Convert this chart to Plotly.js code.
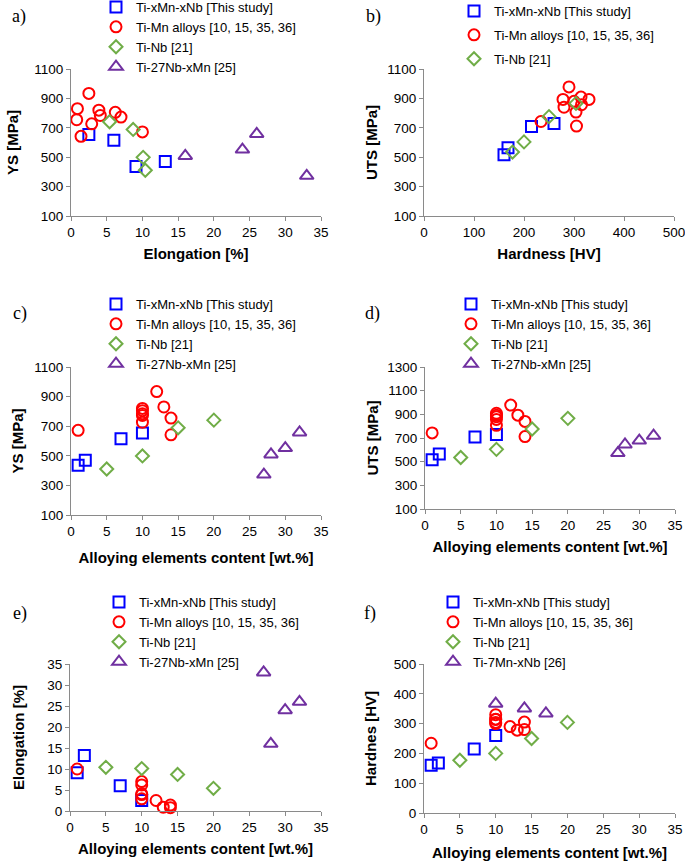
<!DOCTYPE html>
<html>
<head>
<meta charset="utf-8">
<script src="https://cdn.plot.ly/plotly-3.0.1.min.js"></script>
<style>
  body { margin: 0; background: #fff; }
  #chart { width: 685px; height: 861px; }
</style>
</head>
<body>
<div id="chart"></div>
<script>
'use strict'
/* Mechanical properties of Ti-xMn-xNb alloys compared with literature data */

/* Ti-xMn-xNb [This study] */
var studyContent = [1, 2, 7, 10];
var studyYS = [436, 470, 616, 654];
var studyUTS = [516, 565, 709, 730];
var studyElong = [9.1, 13.2, 6.0, 2.5];
var studyHV = [160, 168, 215, 260];

/* Ti-Mn alloys [10, 15, 35, 36] */
var mnContent = [1, 10, 10, 10, 10, 10, 12, 13, 14, 14];
var mnYS = [672, 727, 820, 784, 805, 773, 934, 830, 755, 642];
var mnElong = [10.0, 2.9, 3.9, 4.1, 6.2, 7.0, 2.5, 0.9, 0.8, 1.4];
var mnUTS = [743, 880, 807, 909, 857, 893, 978, 893, 840, 712];
var mnHV = [234, 300, 304, 314, 315, 330, 290, 278, 280, 305];

/* Ti-Nb [21] */
var nbContent = [5, 10, 15, 20];
var nbYS = [411, 499, 689, 741];
var nbElong = [10.4, 10.1, 8.7, 5.4];
var nbUTS = [535, 604, 776, 866];
var nbHV = [177, 200, 250, 304];

/* Ti-27Nb-xMn [25] */
var nb27Content = [27, 28, 30, 32];
var nb27YS = [373, 509, 552, 658];
var nb27Elong = [33.0, 16.0, 24.0, 26.0];
var nb27UTS = [573, 645, 678, 720];

/* Ti-7Mn-xNb [26] */
var mn7Content = [10, 14, 17];
var mn7HV = [367, 351, 334];

var names = {
    study: 'Ti-xMn-xNb [This study]',
    mn: 'Ti-Mn alloys [10, 15, 35, 36]',
    nb: 'Ti-Nb [21]',
    nb27: 'Ti-27Nb-xMn [25]',
    mn7: 'Ti-7Mn-xNb [26]'
};

var blue = '#0000FF', red = '#FF0000', green = '#70AD47', purple = '#7030A0';
var FONT = 'Arial, "Liberation Sans", sans-serif';

function pts(x, y, name, symbol, color, size, n) {
    var suffix = n == 1 ? '' : String(n);
    return {
        type: 'scatter',
        mode: 'markers',
        name: name,
        x: x,
        y: y,
        xaxis: 'x' + suffix,
        yaxis: 'y' + suffix,
        legend: 'legend' + suffix,
        legendgroup: name + n,
        cliponaxis: false,
        // open symbols take their stroke colour from marker.color
        marker: {symbol: symbol, size: size, color: color, line: {width: 2}}
    };
}
function square(x, y, n) { return pts(x, y, names.study, 'square-open', blue, 11, n); }
function circle(x, y, n) { return pts(x, y, names.mn, 'circle-open', red, 11, n); }
function diamond(x, y, n) { return pts(x, y, names.nb, 'diamond-open', green, 10, n); }
function triangle(x, y, name, n) { return pts(x, y, name, 'triangle-up-open', purple, 12, n); }

var data = [
    /* a) YS vs elongation */
    square(studyElong, studyYS, 1), circle(mnElong, mnYS, 1), diamond(nbElong, nbYS, 1), triangle(nb27Elong, nb27YS, names.nb27, 1),
    /* b) UTS vs hardness */
    square(studyHV, studyUTS, 2), circle(mnHV, mnUTS, 2), diamond(nbHV, nbUTS, 2),
    /* c) YS vs content */
    square(studyContent, studyYS, 3), circle(mnContent, mnYS, 3), diamond(nbContent, nbYS, 3), triangle(nb27Content, nb27YS, names.nb27, 3),
    /* d) UTS vs content */
    square(studyContent, studyUTS, 4), circle(mnContent, mnUTS, 4), diamond(nbContent, nbUTS, 4), triangle(nb27Content, nb27UTS, names.nb27, 4),
    /* e) elongation vs content */
    square(studyContent, studyElong, 5), circle(mnContent, mnElong, 5), diamond(nbContent, nbElong, 5), triangle(nb27Content, nb27Elong, names.nb27, 5),
    /* f) hardness vs content */
    square(studyContent, studyHV, 6), circle(mnContent, mnHV, 6), diamond(nbContent, nbHV, 6), triangle(mn7Content, mn7HV, names.mn7, 6)
];

var W = 685, H = 861;
function px(v) { return v / W; }
function py(v) { return 1 - v / H; }

function xax(left, right, range, dtick, title, anchor, standoff) {
    return {
        domain: [px(left), px(right)], range: range, tick0: 0, dtick: dtick, anchor: anchor,
        showgrid: false, zeroline: false, showline: true, linecolor: '#8a8a8a', linewidth: 1,
        ticks: 'outside', ticklen: 4, tickcolor: '#8a8a8a', ticklabeloverflow: 'allow',
        tickfont: {family: FONT, size: 13.5, color: '#000'},
        title: {text: title, standoff: standoff, font: {family: FONT, size: 15, color: '#000', weight: 'bold'}}
    };
}
function yax(top, bottom, range, dtick, title, anchor, standoff) {
    return {
        domain: [py(bottom), py(top)], range: range, tick0: range[0], dtick: dtick, anchor: anchor,
        showgrid: false, zeroline: false, showline: true, linecolor: '#8a8a8a', linewidth: 1,
        ticks: 'outside', ticklen: 4, tickcolor: '#8a8a8a', ticklabeloverflow: 'allow',
        tickfont: {family: FONT, size: 13.5, color: '#000'},
        title: {text: title, standoff: standoff, font: {family: FONT, size: 15, color: '#000', weight: 'bold'}}
    };
}
function leg(left, top) {
    return {
        x: px(left), y: py(top), xanchor: 'left', yanchor: 'top',
        bgcolor: 'rgba(0,0,0,0)', borderwidth: 0, itemwidth: 30,
        traceorder: 'grouped', tracegroupgap: 0,
        font: {family: FONT, size: 13, color: '#000'}
    };
}
function letter(text, x, y) {
    return {text: text, x: px(x), y: py(y), xref: 'paper', yref: 'paper', showarrow: false,
        xanchor: 'center', yanchor: 'middle',
        font: {family: '"Times New Roman", "Liberation Serif", serif', size: 18, color: '#000'}};
}

var contentTitle = 'Alloying elements content [wt.%]';

var layout = {
    width: W,
    height: H,
    margin: {l: 0, r: 0, t: 0, b: 0, autoexpand: false},
    paper_bgcolor: '#fff',
    plot_bgcolor: 'rgba(0,0,0,0)',
    showlegend: true,
    xaxis: xax(71, 321, [0, 35.0001], 5, 'Elongation [%]', 'y', 9),
    yaxis: yax(69, 216, [100, 1100.001], 200, 'YS [MPa]', 'x', 12),
    xaxis2: xax(424, 674, [0, 500.001], 100, 'Hardness [HV]', 'y2', 9),
    yaxis2: yax(69, 216, [100, 1100.001], 200, 'UTS [MPa]', 'x2', 6),
    xaxis3: xax(71, 321, [0, 35.0001], 5, contentTitle, 'y3', 14),
    yaxis3: yax(367, 515, [100, 1100.001], 200, 'YS [MPa]', 'x3', 7),
    xaxis4: xax(425, 675, [0, 35.0001], 5, contentTitle, 'y4', 9),
    yaxis4: yax(367, 509, [100, 1300.001], 200, 'UTS [MPa]', 'x4', 5),
    xaxis5: xax(70, 321, [0, 35.0001], 5, contentTitle, 'y5', 9),
    yaxis5: yax(664, 811, [0, 35.0001], 5, 'Elongation [%]', 'x5', 19),
    xaxis6: xax(424, 675, [0, 35.0001], 5, contentTitle, 'y6', 11),
    yaxis6: yax(664, 813, [0, 500.001], 100, 'Hardnes [HV]', 'x6', 13),
    legend: leg(96, -8),
    legend2: leg(454, -4),
    legend3: leg(96, 289),
    legend4: leg(451, 289),
    legend5: leg(99, 587),
    legend6: leg(433, 587),
    annotations: [
        letter('a)', 19, 17), letter('b)', 373, 17),
        letter('c)', 20, 313), letter('d)', 372, 313),
        letter('e)', 20, 613), letter('f)', 370, 613)
    ]
};
layout.legend2.tracegroupgap = 4;

Plotly.newPlot('chart', data, layout, {displayModeBar: false, staticPlot: true});
</script>
</body>
</html>
